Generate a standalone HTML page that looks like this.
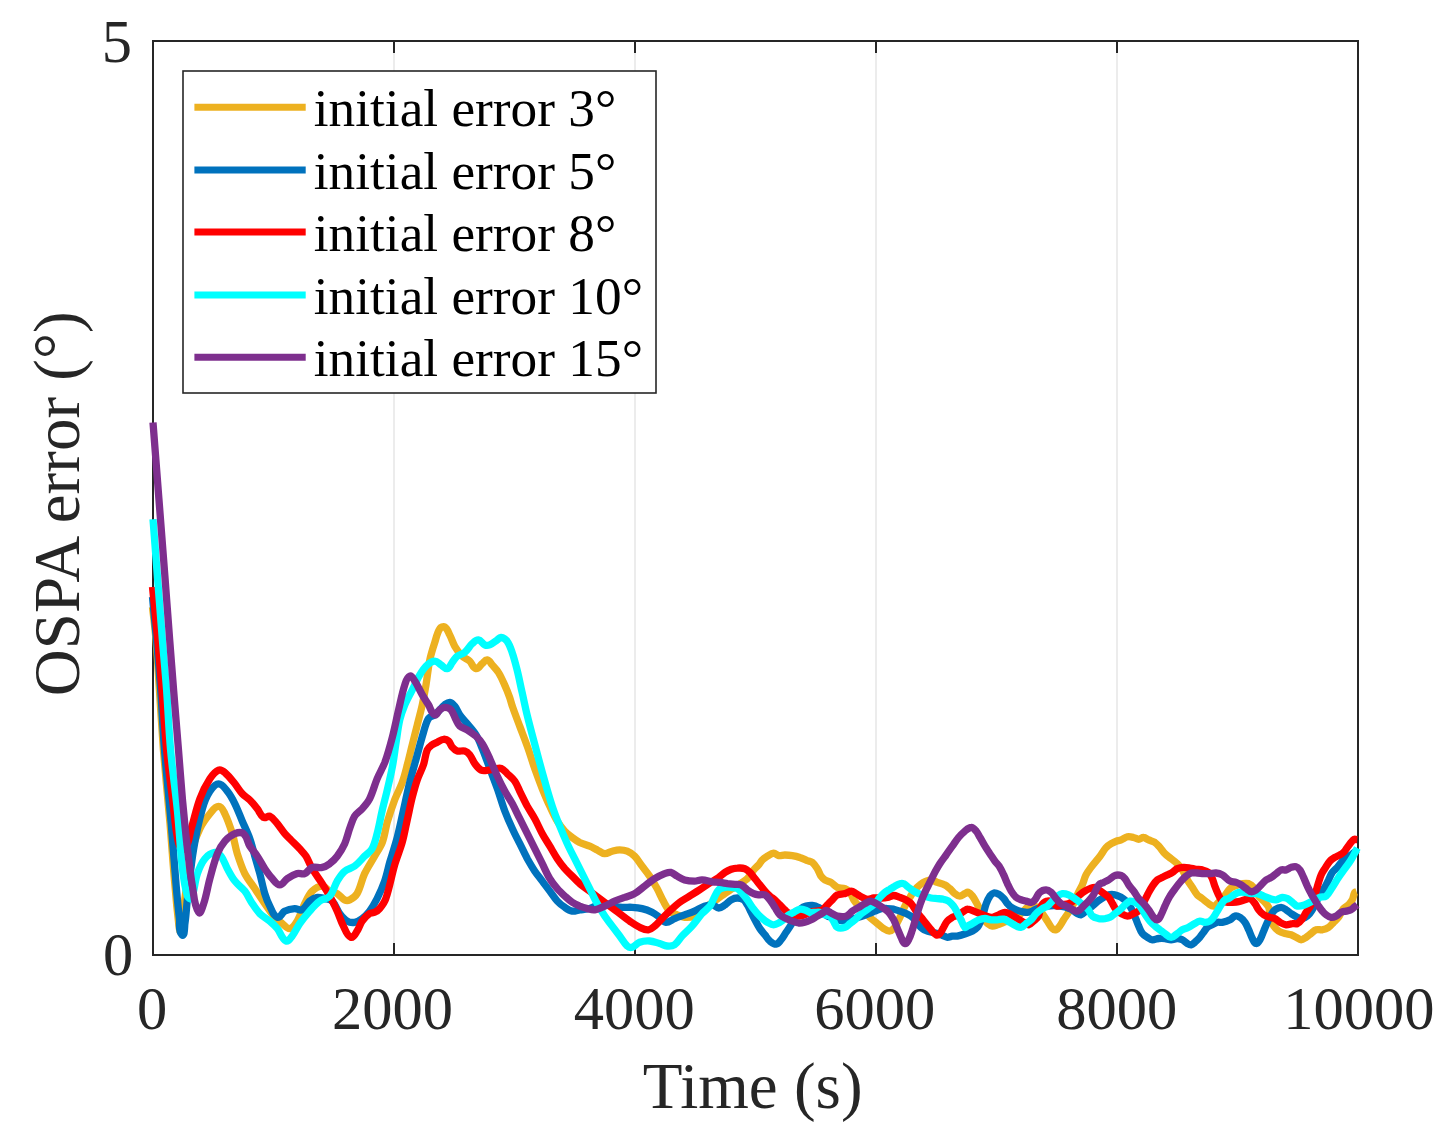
<!DOCTYPE html>
<html><head><meta charset="utf-8"><style>
html,body{margin:0;padding:0;background:#fff;}
svg{display:block;}
text{font-family:"Liberation Serif",serif;}
</style></head><body>
<svg width="1447" height="1138" viewBox="0 0 1447 1138">
<rect width="1447" height="1138" fill="#fff"/>
<g stroke="#e8e8e8" stroke-width="1.6"><line x1="394.0" y1="41" x2="394.0" y2="955"/><line x1="635.0" y1="41" x2="635.0" y2="955"/><line x1="876.0" y1="41" x2="876.0" y2="955"/><line x1="1117.0" y1="41" x2="1117.0" y2="955"/></g>
<g stroke="#262626" stroke-width="2"><line x1="394.0" y1="955" x2="394.0" y2="943"/><line x1="394.0" y1="41" x2="394.0" y2="53"/><line x1="635.0" y1="955" x2="635.0" y2="943"/><line x1="635.0" y1="41" x2="635.0" y2="53"/><line x1="876.0" y1="955" x2="876.0" y2="943"/><line x1="876.0" y1="41" x2="876.0" y2="53"/><line x1="1117.0" y1="955" x2="1117.0" y2="943"/><line x1="1117.0" y1="41" x2="1117.0" y2="53"/></g>
<rect x="153" y="41" width="1205" height="914" fill="none" stroke="#262626" stroke-width="2"/>
<g fill="none" stroke-width="7.3" stroke-linejoin="round" stroke-linecap="butt">
<path d="M152.5,607.0C153.7,618 155.1,629 156,640 157.4,656.6 158.3,673.3 159.4,690 160.8,710 161.9,730 163.4,750 165.4,774.6 167.9,799.1 170,823.7 171.7,844.5 173.1,865.3 175,886.1 176,898.6 177.2,911.1 178.7,923.6 179,926.1 179.8,933.5 180.4,931 183.1,920.5 183.4,909.4 184.9,898.6 187,883.6 188,868.5 191.2,853.7 193,845.1 196.2,836.7 199.9,828.7 202.5,823.3 206.1,818.4 209.9,813.8 212.3,810.8 214.8,806.3 218.6,806.3 221.9,806.3 223.4,810.8 224.9,813.8 228,820.1 230.2,826.9 232.4,833.7 234.4,840.3 235.3,847.1 237.3,853.7 239.5,860.5 241.7,867.3 244.8,873.6 247.5,879 251.5,883.6 254.8,888.6 258.1,893.6 261.4,898.7 264.8,903.6 268,908.2 271.1,913.1 274.8,917.3 276.9,919.8 279.7,921.6 282.3,923.6 284.7,925.4 286.8,929 289.8,928.6 293.2,928 295.4,924.1 297.2,921.1 300.5,915.6 301.9,909.3 304.7,903.6 306.9,899.3 308.8,894.5 312.2,891.1 314.8,888.5 318.5,886.1 322.2,886.1 325.2,886.1 327,889.8 329.7,891.1 332,892.3 334.9,892.3 337.2,893.6 340,895.3 341.8,898.4 344.7,899.9 346.1,900.6 348.2,900.6 349.6,899.9 352.6,898.4 355.5,896.4 357.1,893.6 360.7,887.4 361.6,880.1 364.6,873.6 367.5,867.6 371.3,862 374.6,856.2 377.2,851.5 380.5,847.1 382.4,842.1 384.8,835.6 385.4,828.7 387.3,822.1 389.6,814.5 392.1,807 394.8,799.6 397.1,793.7 400.2,788.1 402.3,782.2 404.4,776.5 405.8,770.6 407.3,764.7 409.1,758.1 410.6,751.4 412.3,744.7 414,738.1 415.6,731.4 417.3,724.8 419,718.1 420.8,711.5 422.3,704.8 423.7,698.2 424.9,691.5 426,684.9 427.4,676.6 428.1,668.1 429.8,659.9 431,654 432.9,648.2 434.8,642.4 436.2,637.8 437.1,632.8 439.8,628.7 440.7,627.2 443.3,626 444.7,627 447.4,628.6 448.3,632.2 449.7,634.9 451.6,638.6 452.7,642.6 454.7,646.2 456.8,649.8 459.3,653.2 462.2,656.2 464.3,658.3 467.5,659.1 469.7,661.1 472.1,663.3 472.8,668 475.9,668.6 478.6,669.2 480.1,665.3 482.2,663.6 483.8,662.4 485.1,659.6 487.2,659.9 489.5,660.2 490.6,663.1 492.2,664.9 494.3,667.3 496.7,669.6 498.4,672.4 500.9,676.3 502.7,680.6 504.6,684.9 506.5,688.9 508.1,693.1 509.6,697.3 510.7,700.3 511.3,703.5 512.4,706.4 514.7,713.1 517.3,719.8 519.8,726.4 522.3,733.1 525,739.7 527.3,746.4 530,753.8 532.2,761.4 534.8,768.8 537.2,775.5 539.7,782.2 542.3,788.8 544.7,794.7 547.1,800.5 549.8,806.3 552.1,811.3 554.4,816.5 557.3,821.2 559.4,824.8 561.9,828.2 564.8,831.2 567,833.6 569.7,835.5 572.2,837.5 574.6,839.3 577.1,841.1 579.7,842.5 582.9,844 586.5,844.8 589.7,846.2 592.3,847.3 594.7,848.7 597.2,849.9 599.7,851.2 601.9,853.5 604.7,853.7 607.3,853.9 609.6,851.8 612.2,851.2 614.6,850.6 617.1,849.9 619.7,849.9 622.2,849.9 624.8,850.2 627.2,851.2 629.9,852.3 632.5,854.1 634.6,856.2 637.6,859.1 639.6,862.8 642.1,866.2 644.6,869.5 647.3,872.7 649.6,876.1 652.3,880.2 654.8,884.4 657.1,888.6 659.3,892.7 661.1,897 663.3,901.1 665.2,904.5 666.8,908.3 669.6,911.1 671.6,913.1 674.5,913.8 677.1,914.8 679.5,915.8 681.9,917.1 684.6,917.3 687.9,917.6 691.4,917.2 694.5,916.1 697.4,915.1 699.6,912.9 702,911.1 704,909.6 705.6,907.6 707.5,906.1 710.3,903.9 713.3,902 716.2,899.9 719.1,897.8 722,895.7 725,893.6 727.4,891.9 729.9,890.3 732.4,888.6 734.9,887 737.4,885.3 739.9,883.7 742.4,882 745.3,880.8 747.4,878.7 749.9,876.1 751.4,872.7 753.7,869.9 755.1,868.1 757.1,866.7 758.6,864.9 760,863.4 760.9,861.4 762.4,859.9 763.9,858.5 765.6,857.3 767.4,856.2 769.4,855 771.3,853.2 773.6,853.1 775.5,853 776.8,855.3 778.6,855.6 780.7,855.9 782.8,855 784.9,855 787.4,855 789.9,855.2 792.3,855.6 794.9,856 797.4,856.6 799.8,857.5 802.4,858.3 804.8,859.6 807.3,860.6 809,861.2 810.9,861.3 812.3,862.4 814.4,864.1 815.9,866.4 817.3,868.7 818.8,871 819.5,873.8 821,876.2 822,877.6 823.3,879 824.8,879.9 826.7,881.1 829.1,881.3 831,882.4 833.3,883.8 834.8,886.3 837.3,887.4 839.6,888.5 842.6,887.7 845,888.6 846.9,889.4 848.7,890.7 850,892.4 851.7,894.6 852.2,897.5 853.7,899.9 855.2,902.1 856.9,904.1 858.7,906.1 860.7,908.3 862.9,910.3 865,912.4 867,914.4 869,916.6 871.2,918.6 873.2,920.4 875.4,921.9 877.4,923.6 879.5,925.2 881.4,927.2 883.7,928.6 885.4,929.7 887.2,931.1 889.3,931.1 891,931.1 892.5,929.8 893.7,928.6 895.3,926.8 896.2,924.5 897.4,922.3 898.7,919.9 900,917.4 901.1,914.9 902.5,912 903.5,908.9 904.9,906.1 906.4,903.1 908.1,900.2 909.9,897.4 911.4,894.8 913,892.2 914.9,889.9 916.3,888.1 918,886.3 919.9,884.9 921.8,883.4 923.9,882.1 926.1,881.2 927.7,880.5 929.4,879.7 931.1,879.9 933.3,880.2 935.2,881.6 937.3,882.4 939.8,883.3 942.5,883.7 944.8,884.9 946.7,885.8 948.2,887.3 949.8,888.6 951.6,890.2 952.9,892.2 954.8,893.6 956.3,894.8 957.9,896.1 959.8,896.1 961.6,896.1 963.1,894.4 964.8,893.6 965.9,893.1 967,892 968.1,892.3 969.9,892.9 971.3,894.6 972.5,896.1 974,898 975.1,900.2 976.2,902.3 977.6,904.8 978.8,907.3 980,909.8 981.3,912.7 982.2,915.8 983.7,918.5 984.7,920.4 985.9,922.2 987.5,923.5 988.9,924.7 990.6,925.8 992.4,926 994.1,926.2 995.8,925.3 997.4,924.8 999.6,924.1 1001.6,923.1 1003.7,922.3 1005.8,921.5 1007.8,920.6 1009.9,919.8 1012,919 1014.2,918.4 1016.2,917.3 1018.4,915.9 1020.4,914.1 1022.4,912.3 1024.1,910.7 1025.4,908.6 1027.4,907.3 1028.8,906.4 1030.7,906.1 1032.4,906.1 1034.1,906.1 1036,906.3 1037.4,907.3 1039.5,908.9 1040.8,911.4 1042.4,913.6 1044.1,916 1045.7,918.5 1047.3,921 1049,923.5 1050.2,926.4 1052.3,928.5 1053.3,929.5 1054.8,930.2 1056.1,929.8 1057.8,929.2 1058.8,927.4 1059.8,926 1061.3,924.1 1062.3,921.8 1063.6,919.8 1065.2,917.3 1067,914.9 1068.6,912.3 1070.3,909.4 1072.1,906.6 1073.6,903.6 1075.4,899.9 1076.8,896 1078.5,892.3 1079.7,889.8 1081.2,887.4 1082.3,884.9 1083.7,881.6 1084.4,878 1086,874.9 1087.4,872.2 1089.2,869.8 1091,867.4 1093.9,863.5 1097.1,860 1100,856.2 1102.2,853.3 1103.8,850.1 1106.2,847.4 1107.6,845.9 1109.4,844.8 1111.2,843.7 1112.8,842.7 1114.5,841.8 1116.2,841.2 1117.8,840.6 1119.6,840.6 1121.2,839.9 1123.4,839.1 1125.2,837.3 1127.4,836.8 1129.5,836.4 1131.6,837 1133.7,837.5 1135.4,837.8 1136.9,839.3 1138.7,839.3 1140.4,839.3 1141.9,837.3 1143.7,837.5 1145.5,837.6 1146.9,839.2 1148.6,839.9 1150.7,840.9 1153,841.2 1154.9,842.4 1156.8,843.7 1158.3,845.7 1159.9,847.4 1161.6,849.4 1163,851.8 1164.9,853.7 1166.8,855.6 1169,857 1171.1,858.7 1173.2,860.3 1175.5,861.8 1177.3,863.7 1179.2,865.5 1180.9,867.6 1182.3,869.9 1184.3,873.1 1185.5,876.6 1187.3,879.9 1188.8,882.5 1190.7,884.9 1192.3,887.4 1194,889.9 1195.3,892.6 1197.3,894.9 1198.7,896.4 1200.7,897.3 1202.3,898.6 1204.4,900.2 1206.3,902.1 1208.5,903.6 1210.1,904.6 1211.7,906.3 1213.5,906.1 1215.6,905.8 1217,903.7 1218.5,902.3 1220.3,900.8 1222,899.2 1223.5,897.3 1225.8,894.6 1227.3,891.1 1230,888.6 1231.7,887 1234.1,886.4 1236.2,885.5 1238.2,884.7 1240.3,883.9 1242.5,883.6 1244.5,883.3 1246.7,883 1248.7,883.6 1250.7,884.3 1252.4,885.7 1253.7,887.4 1255.8,890 1256.7,893.4 1258.7,896.1 1260.4,898.5 1263,900.1 1264.9,902.3 1266.3,903.9 1267.8,905.4 1268.7,907.3 1269.5,909.3 1269.5,911.5 1269.9,913.6 1270.3,915.6 1270.6,917.8 1271.2,919.8 1271.8,922 1272.4,924.2 1273.7,926 1275,928 1276.7,929.7 1278.6,931 1280.5,932.3 1282.7,932.9 1284.9,933.5 1286.9,934.1 1289.1,934.1 1291.1,934.8 1292.9,935.4 1294.5,936.4 1296.1,937.3 1297.8,938.1 1299.2,939.8 1301.1,939.8 1303,939.8 1304.5,938.3 1306.1,937.3 1307.9,936.2 1309.4,934.8 1311.1,933.5 1312.8,932.3 1314.1,930.4 1316.1,929.8 1318.1,929.1 1320.3,930.2 1322.3,929.8 1324.5,929.3 1326.7,928.5 1328.6,927.3 1330.5,926 1331.9,924 1333.6,922.3 1335.2,920.6 1337.2,919.2 1338.5,917.3 1340.5,914.6 1341.4,911.2 1343.5,908.6 1344.8,907 1347.1,906.3 1348.5,904.8 1350,903.4 1351.3,901.7 1352.3,899.8 1353.4,897.5 1353.5,894.7 1354.8,892.4 1355.1,891.8 1356,891.9 1356.6,891.7" stroke="#EDB120"/>
<path d="M152.5,597.0C153.8,611.3 155.2,625.7 156.5,640 158,656.7 159.4,673.3 160.7,690 162.1,710 162.9,730 164.5,750 166.4,774.6 169.1,799.1 171.2,823.7 173,844.5 174.4,865.3 176.2,886.1 177.1,897 178.2,907.8 179.4,918.6 180.1,924 177.9,931.1 181.9,934.8 184.8,937.4 184.4,927.4 184.9,923.6 186.2,915.3 186.5,906.9 187.4,898.6 189.4,882 190.9,865.2 193.7,848.7 195.9,835.3 198.7,821.9 202.4,808.8 204.1,802.7 206.4,796.6 209.9,791.3 212,788.1 214.8,783.8 218.6,783.8 222.5,783.8 224.9,788.3 227.4,791.3 230.4,795.1 232.7,799.4 234.9,803.8 237.7,809.4 239.8,815.4 242.3,821.2 244.8,827.1 247.7,832.7 249.8,838.7 251.9,844.4 253.2,850.4 254.8,856.2 256.5,862 258.2,867.8 259.8,873.6 261.6,880.3 262.8,887.1 264.8,893.6 266.1,897.9 267.7,902.1 269.8,906.1 271.9,910.1 273,915.9 277.3,917.3 280.4,918.3 281.9,912.5 284.8,911.1 287.8,909.5 291.3,908.8 294.7,908.6 297.3,908.4 300,911 302.2,909.8 305.7,908.1 306.8,903.6 309.7,901.1 311.9,899.3 314.5,897.8 317.2,897.4 319.7,896.9 322.2,898 324.7,898.6 327.2,899.2 330.3,899.2 332.2,901.1 335.6,904.5 336.8,909.7 339.7,913.6 341.8,916.4 344.1,919.3 347.2,921.1 349.3,922.3 352.1,922.7 354.6,922.3 357.4,921.9 359.9,920.2 362.1,918.6 364.9,916.5 367.5,913.9 369.6,911.1 372.5,907.2 374.9,902.9 377.1,898.6 379.9,892.9 382.5,887.1 384.6,881.1 386.8,874.9 388,868.4 389.8,862 392.3,853.7 395.1,845.5 397.3,837.1 399.7,828 401.5,818.8 403.6,809.6 405.6,800.5 407.5,791.3 409.8,782.2 412.1,773 414.8,763.9 417.3,754.7 419.4,747.2 421.2,739.7 423.5,732.3 425,727.6 425.9,722.6 428.5,718.5 429.8,716.5 432.8,716.3 434.8,714.8 436.6,713.4 438.1,711.5 439.8,709.8 441.4,708.1 442.9,706.2 444.7,704.8 446.2,703.7 447.9,702.1 449.7,702.3 451.8,702.6 453.4,704.4 454.7,706.1 456.8,708.7 457.8,712 459.7,714.8 461.6,717.5 463.9,719.8 466,722.3 469.4,726.5 473.3,730.5 476.2,735.1 478.8,739.4 480.5,744.2 482.4,748.9 485.1,755.5 487.4,762.2 489.9,768.8 492.4,775.5 495,782.1 497.4,788.8 500,796.2 502.1,803.9 504.9,811.3 507.1,817.2 509.7,823 512.4,828.7 514.7,833.8 517.3,838.7 519.8,843.7 522.3,848.7 524.7,853.8 527.3,858.7 529.7,862.9 532.1,867.1 534.8,871.2 537.1,874.6 539.8,877.8 542.3,881.1 544.8,884.5 547.3,887.8 549.8,891.1 552.3,894.4 554.5,898 557.3,901.1 559.5,903.5 562.1,905.5 564.8,907.3 567.1,908.9 569.5,910.6 572.2,911.1 574.7,911.5 577.2,910.2 579.7,909.8 583.1,909.4 586.5,909.5 589.7,908.6 594,907.4 597.7,904.1 602.2,903.6 605.6,903.2 608.8,905.5 612.2,906.1 615.5,906.7 618.8,907.1 622.2,907.3 625.5,907.5 628.8,907.1 632.1,907.3 635.5,907.5 638.9,907.8 642.1,908.6 645.6,909.4 648.9,910.7 652.1,912.3 654.8,913.7 657.2,915.6 659.6,917.3 661.7,918.9 663.2,922.1 665.8,922.3 669,922.6 671.6,919.7 674.6,918.6 677.9,917.2 681.2,916.1 684.6,914.8 687.9,913.6 691.3,912.5 694.5,911.1 697.9,909.6 701,907.3 704.5,906.1 707.1,905.2 709.8,904.5 712.5,904.9 714.8,905.2 716.4,908 718.7,908 721,908 723,906.1 725,904.9 727.2,903.4 728.9,901.2 731.2,899.9 733.1,898.8 735.3,898 737.4,898 739.6,898 741.9,898.6 743.7,899.9 745.4,901.1 746.3,903.1 747.4,904.9 748.9,907.3 749.9,909.9 751.2,912.4 752.4,914.9 753.6,917.4 754.9,919.8 756.5,922.8 758,925.8 759.9,928.6 761.4,930.8 763.2,932.7 764.9,934.8 766.5,936.9 767.8,939.3 769.9,941.1 771.7,942.5 773.8,944.4 776.1,944.2 778.3,943.9 779.7,941.5 781.1,939.8 783,937.5 784.4,934.8 786.1,932.3 787.8,929.8 789.6,927.4 791.1,924.8 792.9,921.6 794.1,918 796.1,914.9 797.5,912.6 799.1,910.4 801.1,908.6 802.5,907.4 804.3,906.6 806.1,906.1 808.1,905.6 810.2,905.3 812.3,905.5 814.5,905.7 816.6,906.4 818.5,907.4 820.4,908.3 822.1,909.6 823.5,911.1 825,912.6 825.6,914.9 827.3,916.1 828.7,917.1 830.7,916.7 832.3,917.3 834,918 835.5,919.3 837.3,919.8 839.8,920.6 842.4,921.1 845,921.1 846.7,921.1 848.3,920.3 850,919.8 852.1,919.3 854.1,918.6 856.2,918 858.3,917.3 860.4,916.8 862.5,916.1 864.6,915.4 866.6,914.4 868.7,913.6 870.8,912.8 872.9,911.9 874.9,911.1 877,910.3 879,909.1 881.2,908.6 883.2,908.2 885.3,908.5 887.4,908.6 889.5,908.7 891.6,908.8 893.7,909.2 895.8,909.7 897.8,910.4 899.9,911.1 902,911.8 904.1,912.6 906.1,913.6 908.3,914.7 910.6,915.7 912.4,917.3 914.4,919.1 915.6,921.6 917.4,923.6 918.9,925.3 920.5,927.2 922.4,928.6 923.8,929.7 925.6,930.4 927.3,931.1 929,931.7 930.7,931.9 932.3,932.3 934,932.7 935.7,933.1 937.3,933.6 939,934.1 940.7,934.8 942.3,935.4 944,936.1 945.5,937.2 947.3,937.3 949,937.4 950.6,936.3 952.3,936.1 954,935.9 955.7,936.4 957.3,936.1 960.3,935.5 963.3,934.5 966.2,933.5 968.4,932.8 970.5,932.1 972.5,931 974.3,930 976.2,928.9 977.5,927.3 979.2,925.1 980.1,922.4 981.2,919.8 982.2,917.4 982.9,914.8 983.7,912.3 984.6,909.4 985.1,906.4 986.2,903.6 987.2,901 988.3,898.4 989.9,896.1 990.9,894.8 992.1,893.3 993.7,893 995.4,892.6 997.2,893.4 998.7,894.2 1000.6,895.3 1002.2,897 1003.7,898.6 1005.1,900.1 1006.1,902 1007.4,903.6 1008.6,904.9 1009.7,906.3 1011.2,907.3 1012.7,908.4 1014.4,909.1 1016.2,909.8 1018.2,910.6 1020.3,911.2 1022.4,911.7 1024,912 1025.7,912.4 1027.4,912.3 1029.1,912.2 1030.8,911.7 1032.4,911.1 1034.1,910.4 1035.6,909.1 1037.4,908.6 1040.6,907.5 1043.9,906.4 1047.3,906.1 1051.5,905.6 1055.7,905.6 1059.8,906.1 1063.2,906.4 1066.7,907.2 1069.8,908.6 1072.6,909.7 1074.7,912.1 1077.3,913.6 1078.4,914.2 1079.8,915.2 1081,914.8 1083,914.2 1084.4,912.3 1086,911.1 1088.1,909.4 1090.2,907.8 1092.3,906.1 1094.5,904.2 1096.5,902.2 1098.7,900.5 1100.3,899.3 1102,898.3 1103.7,897.3 1105.3,896.4 1106.9,895.3 1108.7,894.9 1110.7,894.4 1112.9,894.4 1115,894.9 1117.2,895.3 1119.2,896.3 1121.2,897.3 1123,898.4 1124.7,899.6 1126.2,901.1 1127.7,902.6 1128.9,904.3 1129.9,906.1 1131.4,908.5 1132.5,911 1133.7,913.6 1134.6,915.6 1135.3,917.7 1136.2,919.8 1137,921.9 1137.7,924 1138.7,926 1139.8,928.6 1140.7,931.3 1142.4,933.5 1143.7,935.2 1145.6,936.2 1147.4,937.3 1149,938.3 1150.5,939.6 1152.4,939.8 1154.5,940 1156.5,938.7 1158.6,938.5 1160.7,938.3 1162.8,938.3 1164.9,938.5 1167,938.7 1169,939.8 1171.1,939.8 1173.2,939.8 1175.2,938.5 1177.3,938.5 1179.1,938.5 1180.8,939 1182.3,939.8 1184.2,940.7 1185.5,942.5 1187.3,943.5 1188.5,944.2 1189.8,945 1191.1,944.8 1192.6,944.5 1193.7,943.2 1194.8,942.3 1196.6,940.7 1198.3,939 1199.8,937.3 1201.2,935.7 1202.3,933.9 1203.6,932.3 1204.8,930.6 1205.7,928.6 1207.3,927.3 1208.7,926.1 1210.6,925.6 1212.3,924.8 1213.9,924 1215.5,922.8 1217.3,922.3 1218.9,921.9 1220.6,922.6 1222.3,922.3 1224.9,921.8 1227.6,921 1230,919.8 1231.8,918.9 1233,916.6 1235,916.1 1236.6,915.6 1238.5,916.4 1240,917.3 1242,918.6 1243.6,920.4 1245,922.3 1246.6,924.6 1247.5,927.3 1248.7,929.8 1250,932.7 1250.9,935.7 1252.4,938.5 1253.4,940.3 1254.1,943.2 1256.2,943.5 1257.9,943.8 1259,941.3 1259.9,939.8 1261.6,937.1 1262.4,933.9 1263.7,931 1264.9,928.1 1266.1,925.2 1267.4,922.3 1268.6,919.8 1269.7,917.2 1271.2,914.8 1272.2,913 1273.2,911.1 1274.9,909.8 1276.7,908.5 1278.9,907.3 1281.1,907.3 1283,907.3 1284.6,908.8 1286.1,909.8 1287.9,910.9 1289.4,912.4 1291.1,913.6 1293.1,914.9 1295.1,916.3 1297.4,917.3 1298.9,918 1300.7,918.8 1302.4,918.6 1304.2,918.3 1305.9,917.3 1307.3,916.1 1309.4,914.3 1310.9,912.1 1312.3,909.8 1313.8,907.5 1314.8,904.8 1316.1,902.3 1317.3,899.8 1318.4,897.3 1319.8,894.9 1321.3,892.3 1323.3,890 1324.8,887.4 1326.2,885 1327.3,882.4 1328.6,879.9 1329.8,877.4 1330.7,874.7 1332.3,872.4 1333.7,870.5 1335.7,869.2 1337.3,867.4 1339.1,865.4 1340.5,863.2 1342.3,861.2 1343.4,859.8 1344.6,858.4 1346,857.4 1347.5,856.3 1349.5,856 1351,854.9 1353.2,853.4 1355.2,851.6 1357.3,849.9" stroke="#0072BD"/>
<path d="M152.5,587.0C154.2,604.7 156.1,622.3 157.7,640 159.2,656.7 160.6,673.3 161.9,690 163.5,710 164.7,730 166.6,750 168.2,766.3 170.4,782.5 172.5,798.8 174.4,813.8 175,829 178.7,843.7 179.3,846.3 183.2,850.7 184.9,848.7 189.4,843.3 189.2,835.4 191.2,828.7 194.2,818.8 196.3,808.5 199.9,798.8 202.5,791.8 205.8,785 209.9,778.8 212.1,775.4 214.8,771.7 218.6,770.1 220.7,769.2 223.2,771.1 224.9,772.6 228.7,775.8 231.7,779.9 234.9,783.8 237.5,787 239.5,790.7 242.3,793.8 244.5,796.2 247.5,797.7 249.8,800 252.5,802.7 254.9,805.7 257.3,808.8 259.5,811.6 260.5,815.7 263.6,817.5 265.4,818.6 267.9,815.4 269.8,816.2 273,817.7 275,821.1 277.3,823.7 280,826.9 282.1,830.5 284.8,833.7 286.7,836 288.9,837.9 291,840 293.9,842.9 296.9,845.7 299.7,848.7 301.9,851.1 304.3,853.4 306,856.2 308.4,860.1 309.8,864.7 312.2,868.7 315.3,873.8 319,878.6 322.2,883.6 324.8,887.7 327.4,891.9 329.7,896.1 332.4,901 334.8,906 337.2,911.1 339.4,916 340.9,921.3 343.4,926.1 345.5,930 346.7,935.7 350.9,937.3 353.7,938.3 355.5,933.5 357.1,931 359.3,928 360,924.1 362.1,921.1 364.2,918.2 366.7,915.6 369.6,913.6 371,912.6 373.1,913.1 374.6,912.3 376.5,911.4 378.3,910.2 379.6,908.6 382.1,905.6 384.6,902.3 385.8,898.6 389.7,887.5 391.5,875.8 394.8,864.5 397,857 400.2,849.7 402.3,842.1 404.4,834.7 405.6,827.1 407.3,819.6 409,812.1 410.4,804.6 412.3,797.2 413.8,791.3 415.3,785.4 417.3,779.7 419.1,774.6 421.8,769.8 423.5,764.7 425.2,759.8 425.2,754.4 427.3,749.7 428.2,747.6 430.4,746.2 432.3,744.7 433.8,743.6 435.6,743.1 437.3,742.2 439.3,741.2 441.2,739.5 443.5,739.3 445.2,739.1 447.2,739.8 448.5,741 450.3,742.6 450.6,745.4 452.2,747.2 453.6,748.8 455.2,750.4 457.2,751 459.6,751.7 462.3,750.3 464.7,751 466.7,751.6 468.4,753.1 469.7,754.7 471.9,757.5 472.8,761 474.9,763.8 476.7,766.2 478.5,768.9 481.2,770.1 483.4,771.1 486.2,770.3 488.6,770.1 490.8,769.9 492.8,769.1 494.9,768.8 497,768.5 499.2,767.6 501.1,768.3 503.7,769.4 505.4,771.9 507.4,773.8 509.9,776.2 512.8,778.4 514.9,781.3 517,784.3 518.2,788 519.8,791.3 522.3,796.3 524.7,801.4 527.3,806.3 529.7,810.5 532.5,814.5 534.8,818.7 537.5,823.6 539.6,828.8 542.3,833.7 544.6,838 547.3,842 549.8,846.2 552.3,850.4 554.6,854.6 557.3,858.7 559.6,862.1 562.1,865.5 564.8,868.7 567.1,871.3 569.8,873.6 572.2,876.1 574.7,878.6 577.1,881.3 579.7,883.6 582.9,886.3 586.4,888.6 589.7,891.1 593,893.6 596.4,896.1 599.7,898.6 603,901.1 606.4,903.6 609.7,906.1 613,908.6 616.3,911.1 619.7,913.6 623,916.1 626.2,918.7 629.6,921.1 632.9,923.3 636.1,925.6 639.6,927.3 642.4,928.6 645.3,930.1 648.4,929.8 650.8,929.6 652.7,927.6 654.6,926.1 657.3,923.8 659.6,921.1 662.1,918.6 664.6,916.1 667,913.5 669.6,911.1 672.8,908.1 676,905 679.6,902.3 682.7,900 686.2,898.2 689.5,896.1 692.9,894 696.2,892 699.5,889.9 703.9,887 708.1,884 712.5,881.2 714.5,879.8 716.7,878.8 718.7,877.4 720.9,875.9 722.7,873.9 725,872.4 726.9,871.2 729,870.1 731.2,869.3 733.2,868.6 735.3,868.2 737.4,868.1 739.9,867.9 742.6,867.9 744.9,868.7 746.9,869.4 748.4,871 749.9,872.4 751.8,874.3 753.2,876.6 754.9,878.7 756.6,880.7 758.2,882.8 759.9,884.9 761.6,887 763.1,889.2 764.9,891.1 766.4,892.9 768.1,894.6 769.9,896.1 771.4,897.5 773.3,898.5 774.9,899.9 776.6,901.4 778.2,903.2 779.9,904.9 781.5,906.5 783.1,908.3 784.9,909.9 786,911 787.1,912.3 788.6,913 790.5,913.9 792.7,914.3 794.8,914.9 796.5,915.3 798.1,916.1 799.8,916.1 801.5,916.1 803.2,915.5 804.8,914.9 806.6,914.2 808,912.9 809.8,912.4 811.8,911.7 814,911.5 816,911.1 818.1,910.7 820.4,910.9 822.3,909.9 824.3,908.7 825.6,906.5 827.3,904.9 828.9,903.2 830.6,901.5 832.3,899.9 833.9,898.2 835.1,895.9 837.3,894.9 839.6,893.7 842.5,894.3 845,893.6 847.2,893.1 849,891.1 851.2,891.1 853.1,891.1 854.6,892.7 856.2,893.6 857.9,894.6 859.5,895.9 861.2,896.8 863.2,897.8 865.2,899 867.5,899.3 869.6,899.5 871.6,898.2 873.7,898 876.2,897.8 878.7,898.1 881.2,898 883.3,897.9 885.4,897.8 887.4,897.4 889.5,897 891.5,895.5 893.7,895.5 895.8,895.5 897.8,896.7 899.9,897.4 902,898.1 904.2,898.8 906.1,899.9 908,900.9 909.7,902.1 911.1,903.6 913.1,905.9 914.4,908.7 916.1,911.1 917.7,913.3 919.4,915.3 921.1,917.3 922.8,919.4 924.4,921.5 926.1,923.6 927.8,925.7 929.3,927.8 931.1,929.8 932.7,931.6 933.9,933.9 936.1,934.8 937.3,935.3 938.9,934.5 939.8,933.6 941.5,931.9 942.3,929.4 943.6,927.3 944.8,925.2 945.7,922.9 947.3,921.1 948.7,919.5 950.5,918.4 952.3,917.3 954.3,916.3 956.6,915.9 958.5,914.9 960.8,913.6 962.6,911.8 964.8,910.5 965.6,909.9 966.5,909.1 967.5,909.2 969.7,909.3 971.7,910.3 973.7,911.1 975.8,911.8 977.9,912.7 980,913.6 982,914.4 984.1,915.4 986.2,916 988.2,916.7 990.3,917.5 992.4,917.3 994.7,917.1 996.6,915.6 998.7,914.8 1000.8,914 1002.7,912.3 1004.9,912.3 1007.2,912.3 1009.2,913.8 1011.2,914.8 1013.3,915.9 1015.3,917.3 1017.4,918.5 1019.5,919.8 1021.5,921.1 1023.6,922.3 1025.3,923.2 1026.8,925 1028.6,924.8 1030.7,924.5 1032.1,922.4 1033.6,921 1035.4,919.5 1037.6,918.2 1038.6,916 1040.1,913 1039.4,909 1041.1,906.1 1042.4,903.8 1044.8,901.9 1047.3,901.1 1049,900.5 1050.8,901.6 1052.3,902.3 1054.2,903.2 1055.3,905.6 1057.3,906.1 1059,906.5 1060.6,905.2 1062.3,904.8 1064.4,904.4 1066.6,904.4 1068.6,903.6 1070.8,902.7 1072.9,901.3 1074.8,899.8 1076.7,898.4 1078,896.4 1079.8,894.8 1081.4,893.5 1083,892.2 1084.8,891.1 1086.4,890.1 1088,889.2 1089.8,888.6 1091.4,888 1093,887.3 1094.8,887.3 1095.4,887.3 1095.7,888.3 1096.2,888.6 1098.3,889.9 1100.5,891 1102.5,892.4 1104.7,893.9 1106.9,895.4 1108.7,897.3 1110.3,899.2 1111.2,901.5 1112.5,903.6 1113.7,905.7 1114.6,908 1116.2,909.8 1117.6,911.4 1119.4,912.6 1121.2,913.6 1123.2,914.7 1125.2,916.1 1127.4,916.1 1129.7,916.1 1131.7,914.6 1133.7,913.6 1135.8,912.5 1138.3,911.6 1139.9,909.8 1141.8,907.7 1142.4,904.8 1143.7,902.3 1144.9,899.8 1146.1,897.3 1147.4,894.9 1149,891.9 1150.5,888.9 1152.4,886.1 1153.9,883.9 1155.4,881.6 1157.4,879.9 1158.8,878.7 1160.7,878.2 1162.4,877.4 1164,876.5 1165.7,875.7 1167.4,874.9 1169,874.1 1170.8,873.4 1172.4,872.4 1174.1,871.3 1175.4,869.5 1177.3,868.6 1179.3,867.8 1181.5,867.5 1183.6,867.4 1185.7,867.3 1187.8,867.7 1189.8,868 1191.9,868.3 1194,869 1196.1,869.3 1198.1,869.6 1200.3,869.4 1202.3,869.9 1204.5,870.4 1206.9,870.9 1208.5,872.4 1210.4,874 1211.3,876.4 1212.3,878.6 1213.4,881 1213.8,883.7 1214.8,886.1 1215.9,889.1 1217.1,892 1218.5,894.9 1219.6,897 1220.4,899.5 1222.3,901.1 1223.6,902.2 1225.7,902.1 1227.5,902.3 1229.1,902.5 1230.8,902.4 1232.5,902.3 1234.6,902.2 1236.7,902.1 1238.7,901.7 1240.8,901.3 1242.9,900.4 1245,899.8 1246.6,899.4 1248.3,898 1249.9,898.6 1252.2,899.4 1253.5,901.7 1254.9,903.6 1256.4,905.5 1257.2,907.9 1258.7,909.8 1260.1,911.7 1261.7,913.5 1263.7,914.8 1265.5,916.1 1267.8,916.6 1269.9,917.3 1271.5,917.9 1273.4,917.8 1274.9,918.6 1276.8,919.5 1278.1,921.3 1279.9,922.3 1281.9,923.4 1283.9,924.6 1286.1,924.8 1288.2,925 1290.3,923.8 1292.4,923.6 1294,923.4 1295.9,924.3 1297.4,923.6 1299.5,922.5 1300.9,920.4 1302.4,918.6 1303.8,916.6 1304.8,914.3 1306.1,912.3 1307.3,910.6 1308.8,909.1 1309.8,907.3 1311.3,904.9 1312.6,902.4 1313.6,899.8 1314.7,897 1315.2,894 1316.1,891.1 1316.9,888.2 1317.7,885.3 1318.6,882.4 1319.4,879.9 1320,877.3 1321.1,874.9 1322.1,872.7 1323.5,870.7 1324.8,868.6 1326.4,866.1 1327.8,863.4 1329.8,861.2 1331.2,859.6 1333,858.5 1334.8,857.4 1336.4,856.4 1338.2,855.8 1339.8,854.9 1341.1,854.2 1342.5,853.5 1343.5,852.4 1345,851 1346,849.1 1347.3,847.4 1348.5,845.8 1349.7,844 1351,842.4 1352,841.3 1352.8,839.9 1354.1,839.3 1355.1,838.9 1356.2,839.6 1357.3,839.7" stroke="#FF0000"/>
<path d="M153.0,519.2C156.1,559.5 159.2,599.7 162.4,640 163.7,656.7 165.4,673.3 166.6,690 168.1,710 168.8,730 170.6,750 172.4,770.5 175.4,790.8 177.5,811.3 179.4,830.4 180.2,849.6 182.4,868.7 183.5,877.9 184.8,887.2 187.4,896.1 187.9,897.5 190.6,900 191.2,898.6 194.7,890.8 194.6,881.8 197.4,873.6 199.2,868.4 201.4,863 204.9,858.7 207.4,855.6 211,853 214.9,852.4 217.3,852.1 219.6,854.3 221.1,856.2 224,859.9 225.1,864.6 227.4,868.7 229.7,872.9 231.9,877.3 234.9,881.1 237.7,884.8 241.9,887.4 244.8,891.1 247.8,894.9 249.6,899.6 252.3,903.6 254.6,907.1 256.9,910.6 259.8,913.6 262.7,916.5 266.6,918.4 269.8,921.1 272.5,923.4 275.1,925.8 277.3,928.6 280.5,932.5 281.5,938.8 286,941 288.4,942.2 290.6,938.1 292.2,936 295.2,932.2 297,927.5 299.7,923.6 302.8,919.2 306.2,915.1 309.7,911.1 312.8,907.6 315.9,903.9 319.7,901.1 322.7,898.9 327.2,898.9 329.7,896.1 333.4,891.9 334.3,885.9 337.2,881.1 339.3,877.6 341.5,873.9 344.7,871.2 347.5,868.7 351.7,868.4 354.6,866.2 358.4,863.3 361.3,859.5 364.6,856.2 367.1,853.7 370.4,851.8 372.1,848.7 374.7,844.1 375.8,838.8 377.1,833.7 379.2,825.8 380.5,817.6 382.4,809.6 383.9,802.9 385.8,796.3 387.3,789.7 389.1,782.2 390.9,774.7 392.3,767.2 393.9,758.9 394.8,750.6 396.1,742.2 397.3,734.8 398.1,727.2 399.8,719.8 401,714.7 402.8,709.7 404.8,704.8 407,699.7 409.8,694.8 412.3,689.8 414.8,684.9 416.9,679.7 419.8,674.9 421.9,671.3 424.2,667.7 427.3,664.9 429.3,663 432,661.1 434.8,661.1 437.2,661.1 438.9,663.6 441,664.9 443.1,666.1 444.9,669.2 447.2,668.6 449.8,668.1 450.6,664.5 452.2,662.4 453.9,660.3 455.1,657.8 457.2,656.2 459.4,654.4 462.6,654.2 464.7,652.4 467.7,650 469.4,646.3 472.2,643.7 474,642 476,639.7 478.4,639.9 481.1,640.2 482.2,643.8 484.7,644.9 486.2,645.6 488.1,645.5 489.7,644.9 492.5,643.8 494.7,641.6 497.2,639.9 498.4,639.1 499.4,637.2 500.9,637.4 503.3,637.7 505.7,639.2 507.1,641.2 509.6,644.5 510.8,648.5 512.1,652.4 514.1,658.1 515.6,664 517.1,669.9 519,677.3 520.4,684.9 522.1,692.3 523.8,699.8 525.3,707.4 527.1,714.8 530.3,727.9 533.9,740.9 537.3,753.9 539.7,763 542.2,772.2 544.8,781.3 547.2,789.7 549.5,798 552.3,806.3 554.5,813 557.1,819.6 559.8,826.2 562.1,832.1 564.6,837.9 567.3,843.7 569.6,848.8 572.2,853.7 574.7,858.7 577.2,863.7 579.7,868.7 582.2,873.6 584.7,878.6 587.2,883.6 589.7,888.6 592.2,893.6 594.5,898.7 597.2,903.6 599.5,907.9 602,912 604.7,916.1 607,919.5 609.7,922.7 612.2,926.1 614.7,929.4 617.2,932.7 619.7,936 622.2,939.4 624.1,943.2 627.2,946 628.4,947.2 630.5,947.8 632.1,947.3 635,946.4 636.8,943.3 639.6,942.3 642.8,941.1 646.3,940.8 649.6,941 653,941.2 656.3,942.6 659.6,943.5 662.1,944.2 664.5,945.8 667.1,946 669.6,946.2 672.5,946.2 674.6,944.8 677.8,942.6 679.4,938.8 682.1,936 685.3,932.6 688.9,929.6 692,926.1 695.6,922.1 698.5,917.5 702,913.6 704.5,910.9 707.7,909 710,906.1 711.7,903.9 712.4,901.1 713.7,898.6 715.3,895.7 716.3,892.3 718.7,889.9 720.3,888.3 722.8,887.8 725,887.4 727,887 729.1,887.2 731.2,887.4 733.3,887.6 735.6,887.6 737.4,888.6 739.5,889.8 740.9,891.9 742.4,893.6 744.2,895.6 745.9,897.7 747.4,899.9 749.2,902.3 750.6,904.9 752.4,907.4 754,909.5 755.6,911.6 757.4,913.6 759,915.4 760.6,917 762.4,918.6 764,920 765.6,921.3 767.4,922.3 769.3,923.4 771.4,924.8 773.6,924.8 775.9,924.8 777.9,923.4 779.9,922.3 781.7,921.3 783.3,919.9 784.9,918.6 786.2,917.4 787.2,915.9 788.6,914.9 790.1,913.8 791.9,913.2 793.6,912.4 795.7,911.3 797.6,909.7 799.8,909.2 801.5,908.9 803.2,909.4 804.8,909.9 806.6,910.4 808,911.9 809.8,912.4 811.4,912.8 813.1,912.4 814.8,912.4 816.5,912.4 818.2,912 819.8,912.4 821.6,912.8 823,914.2 824.8,914.9 826.4,915.5 828.4,915.1 829.8,916.1 831.5,917.3 832.4,919.4 833.5,921.1 834.9,923.1 835.1,926.2 837.3,927.3 839.5,928.6 842.5,928.1 845,927.3 847,926.7 848.3,924.8 850,923.6 851.6,922.3 853.4,921.2 855,919.8 856.7,918.3 858.2,916.4 860,914.9 861.5,913.5 863.3,912.4 865,911.1 866.6,909.9 868.3,908.6 869.9,907.4 871.6,906.1 873.5,905.1 874.9,903.6 876.8,901.7 878.2,899.4 879.9,897.4 881.5,895.6 883.1,893.9 884.9,892.4 886.4,891.2 888.2,890.3 889.9,889.3 891.6,888.2 893.2,887.1 894.9,886.2 896.5,885.2 898.1,884.2 899.9,883.7 901.1,883.3 902.5,883.2 903.6,883.7 905.5,884.5 907,886.2 908.6,887.4 910.3,888.6 911.9,890 913.6,891.1 915.2,892.1 916.9,892.9 918.6,893.6 920.7,894.5 922.7,895.4 924.9,896.1 926.9,896.9 929,897.6 931.1,898 933.1,898.4 935.2,898.4 937.3,898.6 939.4,898.8 941.5,898.8 943.6,899.3 945.3,899.6 947.1,900.1 948.6,901.1 950.5,902.5 952.1,904.3 953.6,906.1 955,908 956.1,910.2 957.3,912.4 958.6,914.8 959.8,917.3 961,919.8 962.3,922.3 962.8,925.4 964.8,927.3 965.5,928 966.6,926.5 967.5,926 969.2,925.2 970.9,924.4 972.5,923.5 974.6,922.4 976.5,920.7 978.7,919.8 980.7,919 982.8,918.5 985,918.5 987.1,918.5 989.1,919.6 991.2,919.8 993.3,920 995.4,919.9 997.4,919.8 999.5,919.7 1001.6,918.8 1003.7,919.2 1006,919.6 1007.9,921.2 1009.9,922.3 1012,923.5 1013.9,925 1016.2,926 1017.7,926.7 1019.5,927.7 1021.1,927.3 1023.2,926.8 1024.5,924.8 1026.1,923.5 1027.8,922.3 1029.7,921.3 1031.1,919.8 1033,917.9 1034.2,915.4 1036.1,913.6 1038,911.7 1040.1,910 1042.4,908.6 1043.9,907.5 1045.9,907.2 1047.3,906.1 1049.2,904.7 1050.7,902.7 1052.3,901.1 1054,899.4 1055.4,897.5 1057.3,896.1 1058.8,895 1060.5,893.8 1062.3,893.6 1064.4,893.4 1066.6,894 1068.6,894.8 1070.8,895.7 1072.8,897.2 1074.8,898.6 1076.5,899.7 1078.1,901.1 1079.8,902.3 1081.5,903.6 1083.2,904.7 1084.8,906.1 1086.1,907.2 1087.5,908.4 1088.5,909.8 1090,911.7 1090.4,914.5 1092.3,916 1094,917.6 1096.5,918.1 1098.7,918.6 1100.8,919 1102.9,918.8 1105,918.6 1106.7,918.4 1108.4,918.1 1110,917.3 1111.8,916.4 1113.3,914.8 1115,913.6 1116.6,912.3 1118.4,911.2 1119.9,909.8 1121.7,908.3 1123.2,906.4 1124.9,904.8 1126.5,903.5 1127.9,901.6 1129.9,901.1 1131.6,900.7 1133.3,901.7 1134.9,902.3 1136.3,902.9 1137.6,903.8 1138.7,904.8 1140.1,906.3 1141.3,908.1 1142.4,909.8 1143.8,911.8 1144.8,914 1146.2,916.1 1147.3,917.8 1148.5,919.5 1149.9,921.1 1151.4,922.8 1153.1,924.5 1154.9,926 1156.5,927.4 1158.2,928.5 1159.9,929.8 1161.5,931 1163.1,932.4 1164.9,933.5 1166.9,934.9 1168.7,937.3 1171.1,937.3 1173.5,937.3 1175.3,934.9 1177.3,933.5 1179.1,932.4 1180.5,930.8 1182.3,929.8 1184.3,928.7 1186.6,928.3 1188.6,927.3 1190.7,926.2 1192.7,924.7 1194.8,923.6 1196.4,922.6 1198,921.3 1199.8,921.1 1201.5,920.8 1203.1,922.3 1204.8,922.3 1206.5,922.3 1208.3,921.9 1209.8,921.1 1211.3,920.2 1212.5,918.7 1213.5,917.3 1215,915.4 1216,913.2 1217.3,911.1 1218.5,909 1219.7,906.9 1221,904.8 1222.2,903.1 1223.1,901.1 1224.8,899.8 1225.8,899 1227.5,899.3 1228.7,898.6 1230.6,897.6 1232,896 1233.7,894.9 1235.3,893.9 1236.9,892.8 1238.7,892.4 1240.7,891.9 1242.9,892.1 1245,892.4 1247.1,892.6 1249.1,893.4 1251.2,893.6 1253.3,893.8 1255.4,893.2 1257.4,893.6 1259.6,894 1261.6,895.3 1263.7,896.1 1265.8,896.9 1267.8,898 1269.9,898.6 1271.9,899.2 1274,900.1 1276.2,899.8 1278.4,899.6 1280.2,897.6 1282.4,897.3 1284.1,897.2 1285.8,897.8 1287.4,898.6 1289.2,899.5 1290.7,901.1 1292.4,902.3 1294,903.6 1295.3,905.7 1297.4,906.1 1299.8,906.6 1302.5,905.6 1304.9,904.8 1307.5,904 1309.8,902.3 1312.3,901.1 1314.8,899.8 1317.2,898.3 1319.8,897.3 1321.8,896.6 1324.4,897.4 1326.1,896.1 1328.9,893.9 1330.3,890.3 1332.3,887.4 1334.5,884.1 1336.4,880.6 1338.5,877.4 1340.5,874.4 1342.7,871.6 1344.8,868.6 1346.9,865.7 1349.2,863 1351,859.9 1353.3,856.1 1355.2,852 1357.3,848.1" stroke="#00FFFF"/>
<path d="M153.0,422.5C156.9,473.3 160.9,524.2 164.8,575 166.5,596.7 168,618.3 169.7,640 171,656.7 172.3,673.3 173.6,690 175.2,710 176.9,730 178.5,750 179.8,766.3 181,782.5 182.4,798.8 184,815.4 185.5,832.1 187.4,848.7 188.9,861.2 190.2,873.7 192.4,886.1 194,895 193.8,904.8 198.7,912.3 200.5,915.2 202.6,906.8 203.7,903.6 206.4,895.5 207.6,886.9 209.9,878.6 212.2,870.3 214.2,861.7 217.4,853.7 219.2,849.2 221.7,844.9 224.9,841.2 227.6,838.1 231,835.3 234.9,833.7 237.6,832.6 241.3,831.9 243.6,833.7 247.2,836.7 247.4,842.2 249.8,846.2 252,849.7 255,852.7 257.3,856.2 260,860.2 262.1,864.6 264.8,868.7 267.1,872.1 269.5,875.6 272.3,878.6 274.5,881 276.5,884.9 279.8,884.9 283,884.9 284.5,880.4 287.3,878.6 290.4,876.6 293.7,874.7 297.2,873.6 299.6,873 302.4,874.6 304.7,873.6 307.7,872.4 309.2,868.5 312.2,867.4 315.3,866.3 318.9,868.1 322.2,867.4 324.9,866.8 327.5,865.3 329.7,863.7 332.5,861.5 335.1,859 337.2,856.2 340.1,852.3 342.7,848.1 344.7,843.7 346.8,838.9 347.9,833.7 349.6,828.7 351.2,824.5 352.3,820 354.6,816.2 356.5,813.3 359.8,811.4 362.1,808.8 364.8,805.6 367.8,802.5 369.6,798.8 372.8,792.4 374.4,785.4 377.1,778.8 379.4,773.2 382.7,767.9 384.9,762.2 387.8,754.1 390.1,745.7 392.3,737.3 394.7,728.2 396.4,718.9 398.6,709.8 400.6,701.5 402.1,693 404.8,684.9 405.9,681.7 406.7,677.3 409.8,676.1 412,675.3 413.5,679.1 414.8,681.1 417.7,685.4 419.7,690.3 422.3,694.8 424.3,698.2 426.4,701.5 428.5,704.8 430.6,708.1 431.2,713.2 434.8,714.8 436.9,715.8 437.9,711.2 439.8,709.8 441.2,708.7 442.9,707.3 444.7,707.3 447,707.3 449.5,708.1 451,709.8 453.5,712.6 454.2,716.5 456,719.8 457.1,721.9 457.9,724.4 459.7,726 461.8,727.9 464.8,728.3 467.2,729.8 470.3,731.8 473.4,733.9 476.2,736.4 478.6,738.6 480.7,741.1 482.4,743.9 485.3,748.6 487.6,753.8 489.9,758.9 492.5,764.6 494.7,770.6 497.4,776.3 499.7,781.4 502.2,786.4 504.9,791.3 507.2,795.6 510,799.5 512.4,803.8 515,808.7 517.3,813.8 519.8,818.7 522.3,823.7 524.8,828.7 527.3,833.7 529.8,838.7 532.3,843.7 534.8,848.7 537.3,853.7 539.8,858.7 542.3,863.7 544.8,868.7 546.9,873.9 549.8,878.6 551.9,882.2 554.6,885.5 557.3,888.6 559.6,891.3 562.2,893.7 564.8,896.1 567.2,898.3 569.5,900.5 572.2,902.3 574.6,903.9 577.2,905 579.7,906.1 582.2,907.1 584.7,907.9 587.2,908.6 589.7,909.2 592.2,910.2 594.7,909.8 598.2,909.3 601.4,907.5 604.7,906.1 608.1,904.6 611.3,902.6 614.7,901.1 617.9,899.7 621.3,898.6 624.7,897.4 628,896.1 631.5,895.4 634.6,893.6 638.3,891.6 641.3,888.6 644.6,886.1 647.9,883.6 651.1,880.8 654.6,878.6 657.8,876.7 661.1,875 664.6,873.6 666.6,872.9 668.7,872 670.8,872.4 673.2,872.9 674.9,875 677.1,876.1 679.5,877.5 681.9,879.1 684.6,879.9 687.8,880.8 691.2,881.1 694.5,881.1 697.1,881.1 699.5,879.8 702,879.9 705.6,880 709,881.3 712.5,881.8 715,882.1 717.5,882.1 720,882.4 722.5,882.7 724.9,883.3 727.5,883.7 729.9,884 732.4,884.1 734.9,884.3 737,884.5 739.3,884 741.2,884.9 743.6,886 745.2,888.4 747.4,889.9 749.4,891.3 751.4,892.7 753.7,893.6 755.2,894.3 756.9,894.7 758.6,894.9 760.7,895.1 763,894 764.9,894.9 767,895.8 768.4,898 769.9,899.9 771.8,902.2 773.2,904.9 774.9,907.4 776.5,909.9 777.7,912.7 779.9,914.9 781.6,916.6 783.9,917.5 786.1,918.6 788.1,919.6 790.2,920.3 792.3,921.1 794.4,921.8 796.4,922.7 798.6,923 800.7,923.2 802.8,922.8 804.8,922.3 807,921.8 809.1,920.8 811.1,919.8 813.2,918.8 815.2,917.3 817.3,916.1 819.4,914.9 821.5,913.7 823.5,912.4 824.4,911.8 825,910.4 826,910.5 827.9,910.6 829.4,912.1 831,913 833.1,914 835,915.6 837.3,916.1 840.2,916.7 843.4,917 846.2,916.1 848.8,915.3 850.3,912.6 852.5,911.1 854.5,909.7 856.6,908.6 858.7,907.4 860.8,906.1 862.8,904.7 865,903.6 866.8,902.7 868.5,901.1 870.6,901.1 872.6,901.1 874.4,902.7 876.2,903.6 878.3,904.7 880.4,906 882.4,907.4 884.6,908.9 886.9,910.4 888.7,912.4 890.7,914.6 892.2,917.2 893.7,919.8 895.2,922.6 896.2,925.7 897.4,928.6 898.6,931.5 899.7,934.5 901.1,937.3 902.2,939.5 902.6,942.8 904.9,943.6 906.6,944.1 907.8,941.4 908.6,939.8 910.3,936.7 911.2,933.2 912.4,929.8 913.7,925.7 914.9,921.5 916.1,917.3 917.4,913.2 918.4,909 919.9,904.9 921.3,900.6 923,896.5 924.9,892.4 926.4,889 928.2,885.7 929.8,882.4 931.5,879.1 933.1,875.7 934.8,872.4 936.4,869.5 938,866.5 939.8,863.7 941.8,860.7 944,857.9 946.1,855 948.1,852 950.2,849.1 952.3,846.2 954.4,843.3 956.3,840.2 958.5,837.5 960.4,835.2 962.5,833.1 964.8,831.2 966.7,829.7 968.7,827.5 971.2,827.5 973.3,827.4 974.9,829.6 976.2,831.2 977.8,833 978.7,835.3 980,837.4 981.7,840.3 983.2,843.3 985,846.2 986.5,848.7 988.3,851.2 989.9,853.7 991.6,856.2 993.2,858.7 994.9,861.1 996.5,863.3 998.5,865.1 999.9,867.4 1001.4,869.7 1002.5,872.3 1003.7,874.9 1005,877.7 1006.1,880.7 1007.4,883.6 1008.6,886.1 1009.7,888.7 1011.2,891.1 1012.6,893.3 1014.1,895.6 1016.2,897.3 1017.6,898.6 1019.4,899.2 1021.1,899.8 1022.7,900.4 1024.5,900.7 1026.1,901.1 1027.8,901.5 1029.4,902.6 1031.1,902.3 1032.6,902.1 1033.9,901 1034.9,899.8 1036.8,897.6 1037.6,894.3 1039.9,892.3 1041.5,890.8 1043.9,889.8 1046.1,889.8 1048,889.8 1049.7,891.1 1051.1,892.3 1053.1,894.1 1054.3,896.6 1056.1,898.6 1057.6,900.3 1059.2,902.2 1061.1,903.6 1062.6,904.7 1064.4,905.2 1066.1,906.1 1067.7,906.9 1069.4,907.7 1071.1,908.6 1072.7,909.4 1074.2,910.8 1076,911.1 1077.3,911.2 1078.7,910.5 1079.8,909.8 1081.3,908.8 1082.3,907.3 1083.5,906.1 1085.2,904.4 1087,902.8 1088.5,901.1 1090.3,899.1 1092.1,897.1 1093.5,894.8 1095.5,891.7 1096.4,887.8 1098.7,884.9 1099.9,883.4 1102.1,883.2 1103.7,882.4 1105.4,881.5 1107.1,880.8 1108.7,879.9 1110.9,878.6 1112.6,876.3 1115,875.5 1116.9,874.8 1119.2,874.9 1121.2,875.5 1122.7,876 1123.9,877.4 1124.9,878.6 1126.5,880.5 1127.3,882.9 1128.7,884.9 1130.2,887.1 1132.1,889 1133.7,891.1 1135.4,893.5 1136.8,896.3 1138.7,898.6 1140.1,900.4 1142.1,901.8 1143.7,903.6 1145.4,905.6 1147.1,907.7 1148.6,909.8 1150.4,912.2 1151.7,915.1 1153.6,917.3 1154.6,918.4 1156,920.3 1157.4,919.8 1159.4,919.1 1160.1,916.6 1161.1,914.8 1162.6,912 1163.5,909 1164.9,906.1 1166.4,902.7 1167.9,899.3 1169.9,896.1 1171.7,893 1174,890.2 1176.1,887.4 1177.7,885.2 1179.3,883.1 1181.1,881.1 1182.7,879.4 1184.3,877.6 1186.1,876.1 1187.6,874.9 1189.2,873.5 1191.1,873 1193.1,872.5 1195.2,872.9 1197.3,873 1199.4,873.1 1201.5,873.5 1203.6,873.6 1205.6,873.7 1207.7,873.7 1209.8,873.6 1211.9,873.5 1213.9,872.8 1216,873 1218.2,873.2 1220.4,873.8 1222.3,874.9 1225.1,876.5 1227.1,879.6 1230,881.1 1231.9,882.1 1234.2,881.7 1236.2,882.4 1238,883 1239.6,883.9 1241.2,884.9 1243,886 1244.5,887.4 1246.2,888.6 1247.8,889.7 1249.2,891.5 1251.2,891.7 1253,892 1254.7,890.9 1256.2,889.9 1258.1,888.5 1259.5,886.5 1261.2,884.9 1262.8,883.2 1264.3,881.3 1266.2,879.9 1267.7,878.8 1269.6,878.4 1271.2,877.4 1272.9,876.3 1274.5,874.9 1276.2,873.6 1277.8,872.4 1279.2,870.6 1281.1,869.9 1282.7,869.3 1284.5,870.3 1286.1,869.9 1287.9,869.4 1289.3,868 1291.1,867.4 1292.7,866.9 1294.5,866.3 1296.1,866.8 1297.7,867.2 1298.9,868.6 1299.9,869.9 1301.5,872.2 1302.4,874.8 1303.6,877.4 1304.9,880.3 1306,883.2 1307.3,886.1 1308.5,888.6 1309.8,891.2 1311.1,893.6 1312.3,895.7 1313.6,897.8 1314.8,899.8 1316.1,901.9 1317.2,904.1 1318.6,906.1 1319.7,907.8 1321,909.5 1322.3,911.1 1323.5,912.4 1324.6,913.8 1326.1,914.8 1327.6,915.9 1329.2,917.1 1331.1,917.3 1332.8,917.5 1334.5,916.8 1336,916.1 1337.9,915.1 1339.2,913.2 1341,912.3 1342.6,911.6 1344.4,911.5 1346,911.1 1347.7,910.7 1349.5,910.6 1351,909.8 1352.5,909.1 1353.5,907.7 1354.8,906.7 1355.6,906.1 1356.4,905.5 1357.3,904.8" stroke="#7E2F8E"/>
</g>
<g fill="#262626" font-size="60.5"><text x="152.2" y="1029.3" text-anchor="middle">0</text><text x="392.4" y="1029.3" text-anchor="middle">2000</text><text x="634.3" y="1029.3" text-anchor="middle">4000</text><text x="874.8" y="1029.3" text-anchor="middle">6000</text><text x="1116.8" y="1029.3" text-anchor="middle">8000</text><text x="1358.8" y="1029.3" text-anchor="middle">10000</text>
<text x="133.3" y="975.3" text-anchor="end">0</text>
<text x="132" y="62" text-anchor="end">5</text>
</g>
<text x="752.7" y="1108" text-anchor="middle" font-size="65" fill="#262626">Time (s)</text>
<text transform="translate(78.6,503.8) rotate(-90)" text-anchor="middle" font-size="65" fill="#262626">OSPA error (°)</text>
<rect x="183" y="71" width="473" height="322" fill="#fff" stroke="#262626" stroke-width="1.6"/>
<g font-size="53.3" fill="#000"><line x1="194.4" y1="107.3" x2="305.7" y2="107.3" stroke="#EDB120" stroke-width="7"/><text x="313.8" y="126.3">initial error 3°</text><line x1="194.4" y1="169.9" x2="305.7" y2="169.9" stroke="#0072BD" stroke-width="7"/><text x="313.8" y="188.9">initial error 5°</text><line x1="194.4" y1="232.1" x2="305.7" y2="232.1" stroke="#FF0000" stroke-width="7"/><text x="313.8" y="251.1">initial error 8°</text><line x1="194.4" y1="295" x2="305.7" y2="295" stroke="#00FFFF" stroke-width="7"/><text x="313.8" y="314.0">initial error 10°</text><line x1="194.4" y1="357.2" x2="305.7" y2="357.2" stroke="#7E2F8E" stroke-width="7"/><text x="313.8" y="376.2">initial error 15°</text></g>
</svg>
</body></html>
